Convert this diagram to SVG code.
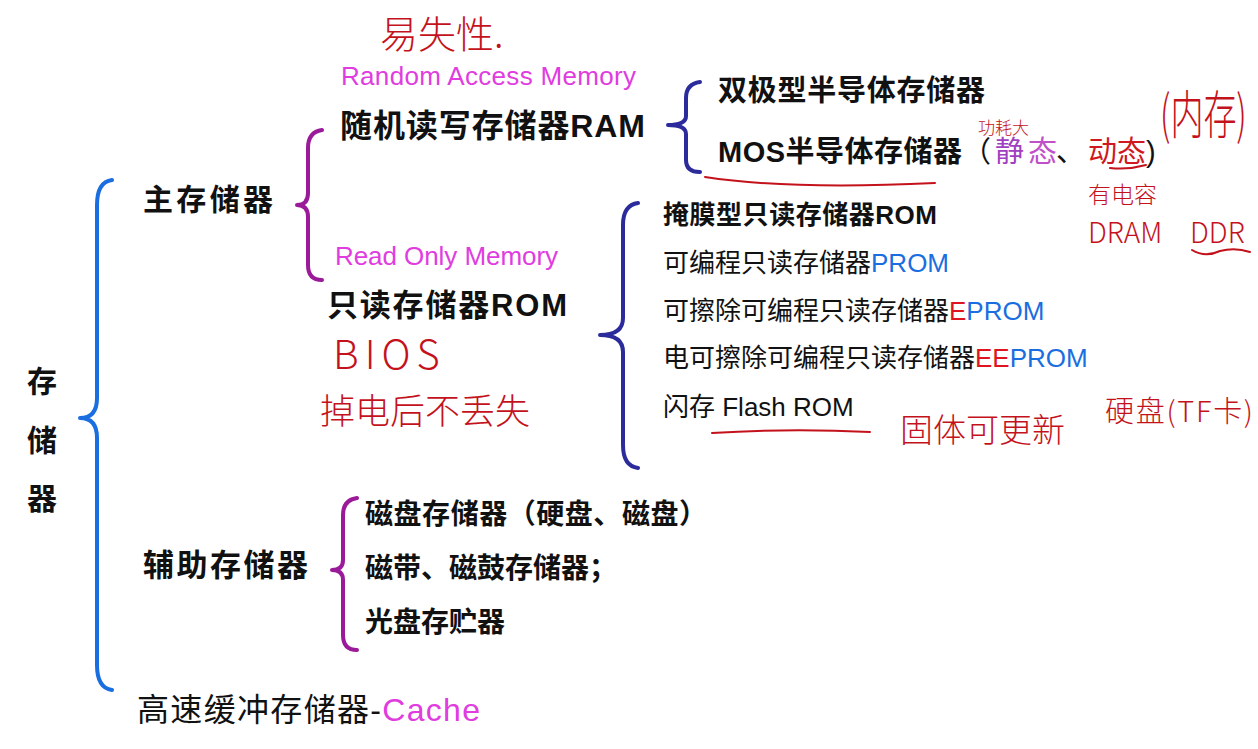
<svg xmlns="http://www.w3.org/2000/svg" width="1258" height="749" viewBox="0 0 1258 749">
<style>
text{font-family:"Liberation Sans","Noto Sans CJK SC",sans-serif;}
.b{font-weight:bold;fill:#111;}
.n{fill:#111;}
.mg{fill:#e03ce0;}
.bl{fill:#1a6ee0;}
.rd{fill:#e0141e;}
.hw{font-family:"Noto Sans CJK SC",sans-serif;font-weight:300;fill:#c4121c;}
.brace{fill:none;stroke-width:4;stroke-linecap:round;stroke-linejoin:round;}
.ink{fill:none;stroke:#c4121c;stroke-width:2;stroke-linecap:round;}
</style>
<rect width="1258" height="749" fill="#fff"/>

<g id="connectors">
<path class="brace" stroke="#1a6ee0" d="M112,180 Q97,182 97,205 L97,398 Q97,418 80,418 Q97,418 97,438 L97,665 Q97,688 112,690"/>
<path class="brace" stroke="#9a1a9a" d="M322,130 Q308,132 308,148 L308,193 Q308,205 297,205 Q308,205 308,217 L308,265 Q308,280 322,280"/>
<path class="brace" stroke="#2b2b9b" d="M700,82 Q686,84 686,98 L686,116 Q686,125 668,125 Q686,125 686,134 L686,160 Q686,172 700,172"/>
<path class="brace" stroke="#2b2b9b" d="M638,203 Q623,205 623,225 L623,318 Q623,335 600,335 Q623,335 623,352 L623,445 Q623,466 638,468"/>
<path class="brace" stroke="#9a1a9a" d="M357,498 Q343,500 343,515 L343,560 Q343,570 332,570 Q343,570 343,580 L343,635 Q343,650 357,650"/>
</g>

<g id="root">
<text class="b" x="42" y="392" font-size="30" text-anchor="middle">存</text>
<text class="b" x="42" y="451" font-size="30" text-anchor="middle">储</text>
<text class="b" x="42" y="509" font-size="30" text-anchor="middle">器</text>
</g>

<g id="main">
<text class="b" x="143" y="210" font-size="30" textLength="130">主存储器</text>
</g>

<g id="ram">
<text class="mg" x="341" y="85" font-size="26" textLength="295">Random Access Memory</text>
<text class="b" x="340" y="137" font-size="32" textLength="305">随机读写存储器RAM</text>
</g>

<g id="ram-items">
<text class="b" x="718" y="101" font-size="29" textLength="267">双极型半导体存储器</text>
<text class="b" x="718" y="162" font-size="29"><tspan textLength="244">MOS半导体存储器</tspan><tspan x="962" font-weight="normal">（</tspan><tspan x="995" font-weight="normal" fill="#a040c0">静</tspan><tspan x="1028" font-weight="normal" fill="#c050c8">态</tspan><tspan x="1056" font-weight="normal">、</tspan><tspan x="1088" font-weight="normal" fill="#d01820">动态</tspan><tspan x="1146" font-weight="normal">)</tspan></text>
</g>

<g id="rom">
<text class="mg" x="335" y="265" font-size="26" textLength="223">Read Only Memory</text>
<text class="b" x="327" y="316" font-size="31" textLength="240">只读存储器ROM</text>
</g>

<g id="rom-items">
<text class="b" x="663" y="224" font-size="26" textLength="274">掩膜型只读存储器ROM</text>
<text class="n" x="663" y="272" font-size="26">可编程只读存储器<tspan class="bl">PROM</tspan></text>
<text class="n" x="663" y="320" font-size="26">可擦除可编程只读存储器<tspan class="rd">E</tspan><tspan class="bl">PROM</tspan></text>
<text class="n" x="663" y="367" font-size="26">电可擦除可编程只读存储器<tspan class="rd">EE</tspan><tspan class="bl">PROM</tspan></text>
<text class="n" x="663" y="416" font-size="26">闪存 Flash ROM</text>
</g>

<g id="aux">
<text class="b" x="143" y="576" font-size="31" textLength="165">辅助存储器</text>
</g>

<g id="aux-items">
<text class="b" x="365" y="524" font-size="28" textLength="342">磁盘存储器（硬盘、磁盘）</text>
<text class="b" x="365" y="578" font-size="28">磁带、磁鼓存储器；</text>
<text class="b" x="365" y="632" font-size="28">光盘存贮器</text>
</g>

<g id="cache">
<text class="n" x="137" y="721" font-size="32" textLength="343">高速缓冲存储器-<tspan class="mg">Cache</tspan></text>
</g>

<g id="annotations">
<text class="hw" x="380" y="48" font-size="38">易失性.</text>
<text class="hw" x="978" y="134" font-size="17">功耗大</text>
<text class="hw" font-size="33" transform="translate(1160,134) scale(1,1.6)">(内存)</text>
<text class="hw" x="1088" y="203" font-size="23">有电容</text>
<text class="hw" x="1088" y="243" font-size="28" font-family="Liberation Sans">DRAM</text>
<text class="hw" x="1190" y="243" font-size="28" font-family="Liberation Sans">DDR</text>
<text class="hw" x="333" y="369" font-size="40" letter-spacing="6" font-family="Liberation Sans">BIOS</text>
<text class="hw" x="320" y="424" font-size="35">掉电后不丢失</text>
<text class="hw" x="900" y="442" font-size="33">固体可更新</text>
<text class="hw" x="1105" y="422" font-size="29" textLength="148">硬盘(TF卡)</text>
<path class="ink" d="M705,177 Q790,190 935,183"/>
<path class="ink" d="M1110,168 Q1128,170 1146,165"/>
<path class="ink" d="M1192,250 Q1205,258 1220,251 Q1235,247 1250,252"/>
<path class="ink" d="M712,433 Q790,428 870,432"/>
</g>
</svg>
